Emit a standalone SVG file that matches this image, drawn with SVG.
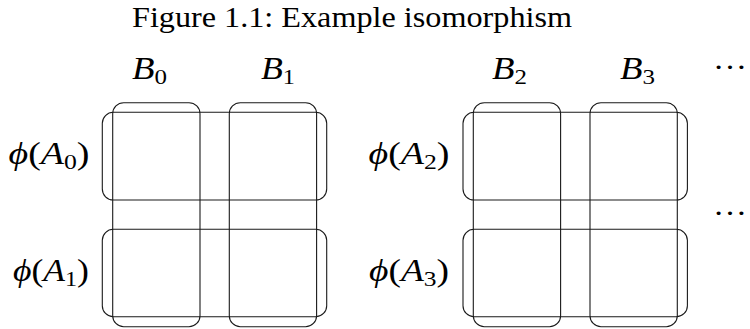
<svg xmlns="http://www.w3.org/2000/svg" width="750" height="329" viewBox="0 0 750 329">
<style>
.box{fill:none;stroke:#1a1a1a;stroke-width:1.1}
text{font-family:'Liberation Serif','DejaVu Serif',serif;fill:#000}
.cap{font-size:30px}
.m{font-style:italic;font-size:31px}
.r{font-style:normal}
.s{font-size:21px;font-style:normal}
</style>
<rect width="750" height="329" fill="#fff"/>
<text id="caption" class="cap" font-family="Liberation Serif, serif" x="132" y="27" textLength="440" lengthAdjust="spacingAndGlyphs">Figure 1.1: Example isomorphism</text>

<g id="block-left">
  <g id="B0"><rect class="box" x="112.7" y="102.7" width="87.3" height="224" rx="11"/>
    <text class="m" x="132" y="79" textLength="35" lengthAdjust="spacingAndGlyphs">B<tspan class="s" dy="5">0</tspan></text></g>
  <g id="B1"><rect class="box" x="229.3" y="102.7" width="87.3" height="224" rx="11"/>
    <text class="m" x="261" y="79" textLength="34" lengthAdjust="spacingAndGlyphs">B<tspan class="s" dy="5">1</tspan></text></g>
  <g id="A0"><rect class="box" x="102.3" y="112.3" width="224.4" height="87.7" rx="11"/>
    <text class="m" x="8.5" y="164" textLength="81" lengthAdjust="spacingAndGlyphs">ϕ<tspan class="r">(</tspan>A<tspan class="s" dy="5">0</tspan><tspan class="r" dy="-5">)</tspan></text></g>
  <g id="A1"><rect class="box" x="102.3" y="229.3" width="224.4" height="87.4" rx="11"/>
    <text class="m" x="13" y="281" textLength="76" lengthAdjust="spacingAndGlyphs">ϕ<tspan class="r">(</tspan>A<tspan class="s" dy="5">1</tspan><tspan class="r" dy="-5">)</tspan></text></g>
</g>

<g id="block-right">
  <g id="B2"><rect class="box" x="473.3" y="102.7" width="87.3" height="224" rx="11"/>
    <text class="m" x="492" y="79" textLength="35" lengthAdjust="spacingAndGlyphs">B<tspan class="s" dy="5">2</tspan></text></g>
  <g id="B3"><rect class="box" x="590" y="102.7" width="87.3" height="224" rx="11"/>
    <text class="m" x="620" y="79" textLength="35" lengthAdjust="spacingAndGlyphs">B<tspan class="s" dy="5">3</tspan></text></g>
  <g id="A2"><rect class="box" x="463" y="112.3" width="224.4" height="87.7" rx="11"/>
    <text class="m" x="368.5" y="164" textLength="81" lengthAdjust="spacingAndGlyphs">ϕ<tspan class="r">(</tspan>A<tspan class="s" dy="5">2</tspan><tspan class="r" dy="-5">)</tspan></text></g>
  <g id="A3"><rect class="box" x="463" y="229.3" width="224.4" height="87.4" rx="11"/>
    <text class="m" x="369" y="281" textLength="80" lengthAdjust="spacingAndGlyphs">ϕ<tspan class="r">(</tspan>A<tspan class="s" dy="5">3</tspan><tspan class="r" dy="-5">)</tspan></text></g>
</g>

<g id="dots">
  <text class="cap" x="713" y="69" textLength="34" lengthAdjust="spacingAndGlyphs">…</text>
  <text class="cap" x="713" y="215" textLength="34" lengthAdjust="spacingAndGlyphs">…</text>
</g>
</svg>
